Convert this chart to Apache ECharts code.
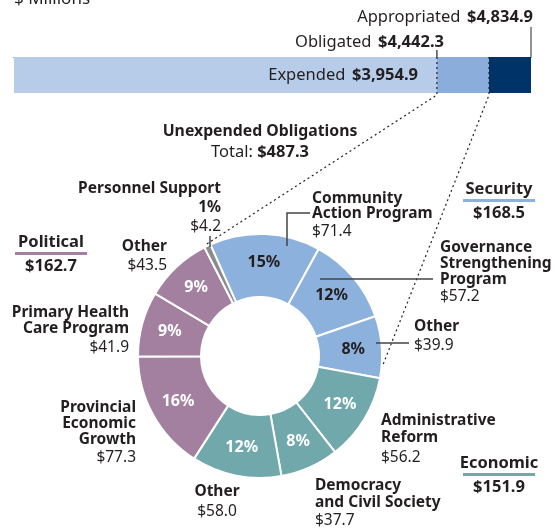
<!DOCTYPE html>
<html>
<head>
<meta charset="utf-8">
<script src="https://cdn.jsdelivr.net/npm/echarts@6/dist/echarts.min.js"></script>
<style>html,body{margin:0;padding:0;background:#fff;}#c{width:555px;height:529px;}</style>
</head>
<body>
<div id="c"></div>
<script>
// ---- data ----
const barLabels = ['Expended', 'Obligated', 'Appropriated'];
const barValues = [3954.9, 4442.3, 4834.9];

const sliceNames = ['Community Action Program', 'Governance Strengthening Program', 'Other',
  'Administrative Reform', 'Democracy and Civil Society', 'Other',
  'Provincial Economic Growth', 'Primary Health Care Program', 'Other', 'Personnel Support'];
const sliceValues = [71.4, 57.2, 39.9, 56.2, 37.7, 58.0, 77.3, 41.9, 43.5, 4.2];
const sliceGroups = ['Security', 'Security', 'Security', 'Economic', 'Economic', 'Economic',
  'Political', 'Political', 'Political', 'Personnel'];
const groupNames = ['Security', 'Economic', 'Political'];
const groupTotals = [168.5, 151.9, 162.7];
const unexpendedTotal = 487.3;

// ---- styles ----
const FONT = '"Noto Sans", sans-serif';
const TXT = '#231f20';
const groupColors = { Security: '#8cb1dd', Economic: '#70a8ab', Political: '#a480a0', Personnel: '#8c8c8c' };
const barColors = ['#b7cce8', '#8aaddb', '#003468'];
const CX = 260, CY = 356, R0 = 59, R1 = 122, START = 114;
const FS_NAME = 15.5, FS_VAL = 15.5, FS_RICH = 16.5, FS_GROUP = 16.5;

const chart = echarts.init(document.getElementById('c'), null, { renderer: 'canvas' });

const total = sliceValues.reduce((a, b) => a + b, 0);
const pieData = sliceValues.map((v, i) => ({
  name: sliceNames[i], value: v,
  itemStyle: { color: groupColors[sliceGroups[i]] },
  label: {
    show: sliceGroups[i] !== 'Personnel',
    color: sliceGroups[i] === 'Security' ? TXT : '#ffffff'
  }
}));

const stackVals = [barValues[0], barValues[1] - barValues[0], barValues[2] - barValues[1]];

chart.setOption({
  animation: false,
  grid: { left: 14, top: 57, width: 517, height: 36, containLabel: false },
  xAxis: { type: 'value', min: 0, max: barValues[2], position: 'top', show: true,
    axisLine: { show: true, lineStyle: { color: '#1a3560', width: 1 } },
    axisTick: { show: false }, axisLabel: { show: false }, splitLine: { show: false } },
  yAxis: { type: 'category', data: ['Funds'], show: false },
  series: [
    ...stackVals.map((v, i) => ({
      type: 'bar', stack: 'funds', name: barLabels[i], data: [v], barWidth: '100%',
      itemStyle: { color: barColors[i] }, silent: true, z: 1
    })),
    {
      type: 'pie', center: [CX, CY], radius: [R0, R1], startAngle: START, clockwise: true,
      silent: true, avoidLabelOverlap: false,
      itemStyle: { borderColor: '#ffffff', borderWidth: 2 },
      label: {
        position: 'inside', fontFamily: FONT, fontWeight: 'bold', fontSize: 16,
        formatter: p => Math.round(p.value / total * 100) + '%'
      },
      labelLine: { show: false },
      data: pieData
    }
  ]
});

// ---- annotations ----
const xExp = chart.convertToPixel({ xAxisIndex: 0 }, barValues[0]);
const xObl = chart.convertToPixel({ xAxisIndex: 0 }, barValues[1]);
const xApp = chart.convertToPixel({ xAxisIndex: 0 }, barValues[2]);
const barTop = 57, barBot = 93;

function polar(angleFromTopDeg, r) {
  const a = angleFromTopDeg * Math.PI / 180;
  return [CX + r * Math.sin(a), CY - r * Math.cos(a)];
}
const startFromTop = 90 - START;
const secEnd = startFromTop + (groupTotals[0] / total) * 360;
const persMid = startFromTop - (sliceValues[9] / total) * 180;

const g = [];
function t(x, y, text, opt) {
  opt = opt || {};
  const size = opt.size || (opt.bold ? FS_NAME : FS_VAL);
  g.push({ type: 'text', x: x, y: y, silent: true, z: 10,
    style: { text: text, fill: opt.fill || TXT, textAlign: opt.align || 'left', textVerticalAlign: 'middle',
      font: (opt.bold ? 'bold ' : '') + size + 'px ' + FONT } });
}
function rt(x, y, text, align) {
  g.push({ type: 'text', x: x, y: y, silent: true, z: 10,
    style: { text: text, textAlign: align, textVerticalAlign: 'middle', fill: TXT,
      rich: { a: { font: FS_RICH + 'px ' + FONT, fill: TXT }, b: { font: 'bold ' + FS_RICH + 'px ' + FONT, fill: TXT } } } });
}
function line(pts, opt) {
  opt = opt || {};
  g.push({ type: 'polyline', silent: true, z: 9, shape: { points: pts },
    style: { stroke: opt.stroke || TXT, lineWidth: opt.w || 1.2, lineDash: opt.dash || null, fill: null } });
}

t(14, -1, '$ Millions', { size: 17, fill: TXT });
rt(533, 17, '{a|' + barLabels[2] + '}  {b|$4,834.9}', 'right');
rt(444, 42, '{a|' + barLabels[1] + '}  {b|$4,442.3}', 'right');
rt(418, 75, '{a|' + barLabels[0] + '}  {b|$3,954.9}', 'right');
line([[xApp, 27], [xApp, barTop]], { stroke: '#6d6e70', w: 1.5 });
line([[xExp, 50], [xExp, barTop]], { w: 1.2 });
line([[xExp, barTop], [xExp, 95], polar(persMid, R1 + 2)], { dash: [2, 3] });
line([[xObl, barTop], [xObl, 95], polar(secEnd - 6, R1 + 1)], { dash: [2, 3] });

t(260, 131, 'Unexpended Obligations', { bold: true, align: 'center', size: 15.8 });
rt(260, 152, '{a|Total: }{b|$' + unexpendedTotal.toFixed(1) + '}', 'center');

// Personnel
t(221, 189, 'Personnel Support', { bold: true, align: 'right' });
t(221, 208, '1%', { bold: true, align: 'right' });
t(221, 227, '$' + sliceValues[9].toFixed(1), { align: 'right' });
line([[210, 236], [210, 247]], { stroke: '#444', w: 1.5 });

// Community Action
t(312, 199, 'Community', { bold: true });
t(312, 214, 'Action Program', { bold: true });
t(312, 232, '$' + sliceValues[0].toFixed(1));
line([[287, 246], [287, 213], [310, 213]], { w: 1.5, stroke: '#444' });

// Governance
t(440, 248, 'Governance', { bold: true });
t(440, 264, 'Strengthening', { bold: true });
t(440, 280, 'Program', { bold: true });
t(440, 297, '$' + sliceValues[1].toFixed(1));
line([[320, 279], [433, 279]], { w: 1.5, stroke: '#444' });

// Other security
t(414, 327, 'Other', { bold: true });
t(414, 346, '$' + sliceValues[2].toFixed(1));
line([[376, 343], [409, 343]], { w: 1.5, stroke: '#444' });

// Admin reform
t(381, 421, 'Administrative', { bold: true });
t(381, 438, 'Reform', { bold: true });
t(381, 458, '$' + sliceValues[3].toFixed(1));

// Democracy
t(315, 486, 'Democracy', { bold: true });
t(315, 503, 'and Civil Society', { bold: true });
t(315, 521, '$' + sliceValues[4].toFixed(1));

// Other economic
t(217, 492, 'Other', { bold: true, align: 'center' });
t(217, 512, '$' + sliceValues[5].toFixed(1), { align: 'center' });

// Provincial
t(136, 408, 'Provincial', { bold: true, align: 'right' });
t(136, 424, 'Economic', { bold: true, align: 'right' });
t(136, 440, 'Growth', { bold: true, align: 'right' });
t(136, 458, '$' + sliceValues[6].toFixed(1), { align: 'right' });

// Primary health
t(129, 313, 'Primary Health', { bold: true, align: 'right' });
t(129, 329, 'Care Program', { bold: true, align: 'right' });
t(129, 348, '$' + sliceValues[7].toFixed(1), { align: 'right' });

// Other political
t(167, 247, 'Other', { bold: true, align: 'right' });
t(167, 266, '$' + sliceValues[8].toFixed(1), { align: 'right' });

// Group totals
const groupPos = { Security: [499, 189], Economic: [499, 463], Political: [51, 242] };
groupNames.forEach((gn, i) => {
  const p = groupPos[gn];
  t(p[0], p[1], gn, { bold: true, align: 'center', size: FS_GROUP });
  g.push({ type: 'rect', silent: true, shape: { x: p[0] - 36, y: p[1] + 10, width: 72, height: 3 },
    style: { fill: groupColors[gn] } });
  t(p[0], p[1] + 24, '$' + groupTotals[i].toFixed(1), { bold: true, align: 'center', size: FS_GROUP });
});

chart.setOption({ graphic: { elements: g } });
</script>
</body>
</html>
